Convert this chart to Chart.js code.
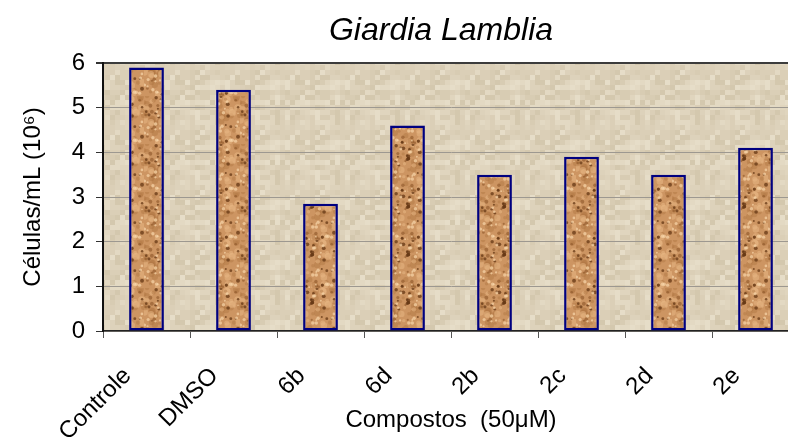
<!DOCTYPE html>
<html>
<head>
<meta charset="utf-8">
<script src="https://cdn.jsdelivr.net/npm/chart.js@4/dist/chart.umd.min.js"></script>
<style>
  html, body { margin: 0; padding: 0; background: #fff; overflow: hidden; }
  #wrap { width: 880px; height: 437px; position: relative; }
</style>
</head>
<body>
<div id="wrap"><canvas id="chart"></canvas></div>
<script>
// data
const compostos = ['Controle', 'DMSO', '6b', '6d', '2b', '2c', '2d', '2e'];
const celulas = [5.9, 5.4, 2.85, 4.6, 3.5, 3.9, 3.5, 4.1];
const yTicks = [0, 1, 2, 3, 4, 5, 6];

const FONT = '"Liberation Sans", Arial, sans-serif';

// fixed seed so the textures come out the same every run
let seed = 12345;
function rnd() {
  seed = (seed * 16807) % 2147483647;
  return seed / 2147483647;
}

// tan mosaic behind the bars
function makeBgPattern(ctx) {
  const c = document.createElement('canvas');
  c.width = 60; c.height = 60;
  const g = c.getContext('2d');
  const tones = ['#e3d9c3', '#ddd2bb', '#d8ccb3', '#e6ddc8', '#d4c8ae', '#e0d5be', '#dbcfb7'];
  for (let y = 0; y < 60; y += 5) {
    for (let x = 0; x < 60; x += 5) {
      g.fillStyle = tones[Math.floor(rnd() * tones.length)];
      g.fillRect(x, y, 5, 5);
    }
  }
  return ctx.createPattern(c, 'repeat');
}

// cork-like fill for the bars
function makeCorkPattern(ctx) {
  const c = document.createElement('canvas');
  c.width = 48; c.height = 48;
  const g = c.getContext('2d');
  g.fillStyle = '#cd9562';
  g.fillRect(0, 0, 48, 48);
  // soft blotches first
  for (let i = 0; i < 60; i++) {
    g.fillStyle = rnd() < 0.5 ? 'rgba(232,182,132,0.55)' : 'rgba(176,118,66,0.45)';
    g.beginPath();
    g.arc(rnd() * 48, rnd() * 48, 1.5 + rnd() * 2.5, 0, Math.PI * 2);
    g.fill();
  }
  // dark pores
  for (let i = 0; i < 40; i++) {
    g.fillStyle = rnd() < 0.5 ? 'rgba(100,55,20,0.75)' : 'rgba(140,85,40,0.6)';
    g.beginPath();
    g.arc(rnd() * 48, rnd() * 48, 0.8 + rnd() * 1.2, 0, Math.PI * 2);
    g.fill();
  }
  // light flecks
  for (let i = 0; i < 30; i++) {
    g.fillStyle = 'rgba(248,214,170,0.7)';
    g.beginPath();
    g.arc(rnd() * 48, rnd() * 48, 0.7 + rnd() * 1.1, 0, Math.PI * 2);
    g.fill();
  }
  return ctx.createPattern(c, 'repeat');
}

const plotBackground = {
  id: 'plotBackground',
  beforeDraw(chart, args, opts) {
    const { ctx, chartArea: a } = chart;
    ctx.save();
    ctx.fillStyle = opts.pattern;
    ctx.fillRect(a.left, a.top, a.right - a.left, a.bottom - a.top);
    ctx.restore();
  }
};

// title sits centred on the whole (wider) chart box, not the plot
const bigTitle = {
  id: 'bigTitle',
  afterDraw(chart, args, opts) {
    const { ctx } = chart;
    ctx.save();
    ctx.font = 'italic 32px ' + FONT;
    ctx.fillStyle = '#000';
    ctx.textAlign = 'center';
    ctx.textBaseline = 'middle';
    ctx.fillText(opts.text, opts.x, opts.y);
    ctx.restore();
  }
};

const canvas = document.getElementById('chart');
const ctx = canvas.getContext('2d');
const bgPattern = makeBgPattern(ctx);
const corkPattern = makeCorkPattern(ctx);

new Chart(ctx, {
  type: 'bar',
  data: {
    labels: compostos,
    datasets: [{
      data: celulas,
      backgroundColor: corkPattern,
      borderColor: '#000080',
      borderWidth: 2.5,
      borderSkipped: false,
      barPercentage: 0.4,
      categoryPercentage: 1,
    }],
  },
  options: {
    responsive: true,
    maintainAspectRatio: false,
    animation: false,
    devicePixelRatio: 1,
    layout: { padding: { top: 63, right: 81, bottom: 0, left: 0 } },
    plugins: {
      legend: { display: false },
      tooltip: { enabled: false },
      title: { display: false },
      plotBackground: { pattern: bgPattern },
      bigTitle: { text: 'Giardia Lamblia', x: 441, y: 31 },
    },
    scales: {
      x: {
        afterFit(scale) { scale.height = 106; },
        grid: {
          offset: true,
          drawOnChartArea: false,
          drawTicks: true,
          tickLength: 7,
          tickColor: '#555',
        },
        border: { color: '#222', width: 1.5 },
        ticks: {
          autoSkip: false,
          minRotation: 45,
          maxRotation: 45,
          padding: 24,
          labelOffset: -19,
          color: '#000',
          font: { family: FONT, size: 24 },
        },
        title: {
          display: true,
          text: 'Compostos  (50μM)',
          color: '#000',
          font: { family: FONT, size: 24 },
          padding: 2,
        },
      },
      y: {
        min: 0,
        max: 6,
        afterFit(scale) { scale.width = 103; },
        afterBuildTicks(scale) { scale.ticks = yTicks.map(v => ({ value: v })); },
        grid: {
          color: c => (c.tick && c.tick.value === 6 ? '#3c3c3c' : '#9d9890'),
          lineWidth: c => (c.tick && c.tick.value === 6 ? 2 : 1),
          drawTicks: true,
          tickLength: 7,
          tickColor: '#333',
        },
        border: { color: '#111', width: 2 },
        ticks: {
          padding: 11,
          color: '#000',
          font: { family: FONT, size: 24 },
        },
        title: {
          display: true,
          text: 'Células/mL (10⁶)',
          color: '#000',
          font: { family: FONT, size: 24 },
          padding: 19,
        },
      },
    },
  },
  plugins: [plotBackground, bigTitle],
});
</script>
</body>
</html>
